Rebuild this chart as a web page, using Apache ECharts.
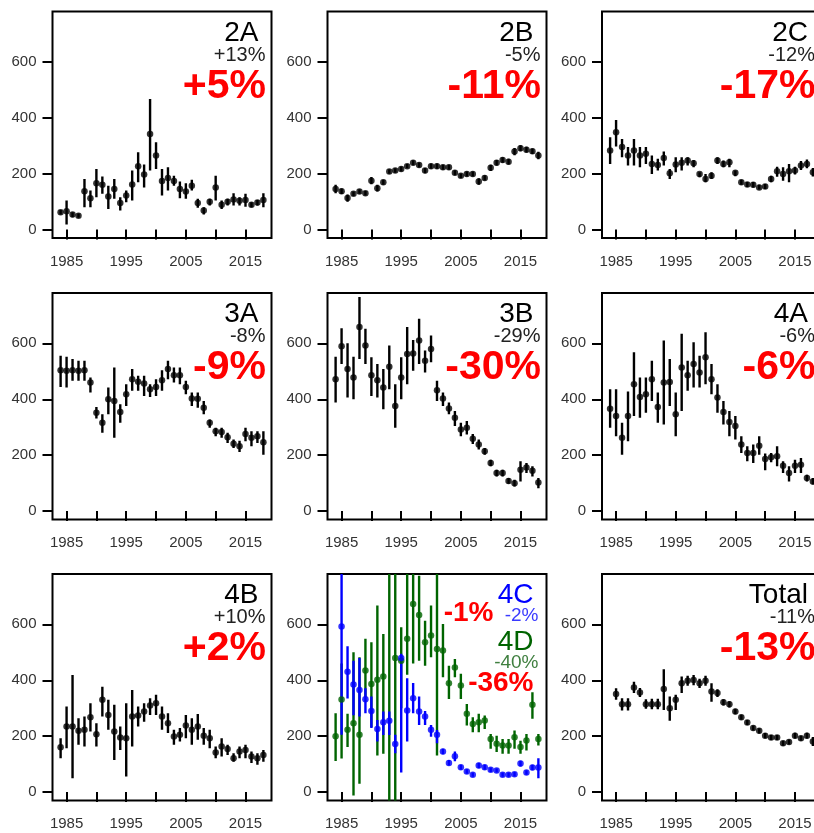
<!DOCTYPE html>
<html>
<head>
<meta charset="utf-8">
<script src="https://cdn.jsdelivr.net/npm/echarts@6/dist/echarts.min.js"></script>
<style>
  html, body { margin: 0; padding: 0; background: #fff; }
  #chart { width: 814px; height: 833px; }
</style>
</head>
<body>
<div id="chart"></div>
<script>
// Survey years shared by every panel
const YEARS = [1984,1985,1986,1987,1988,1989,1990,1991,1992,1993,1994,1995,1996,1997,1998,1999,2000,
               2001,2002,2003,2004,2005,2006,2007,2008,2009,2010,2011,2012,2013,2014,2015,2016,2017,2018];

// Axis tick values
const Y_TICKS = [0, 200, 400, 600];
const X_TICKS = [1985, 1990, 1995, 2000, 2005, 2010, 2015];
const X_LABELS = [1985, 1995, 2005, 2015];

// Area 2A
const est2A = [62,66,54,50,137,112,166,160,118,145,95,122,161,227,197,342,265,174,185,174,145,136,157,95,68,100,151,89,100,108,103,106,89,97,106];
const lo2A  = [54,18,44,42,80,80,116,128,74,110,68,98,104,169,151,211,217,122,140,157,112,110,140,78,54,86,104,74,86,86,86,82,80,86,80];
const hi2A  = [70,104,62,58,181,140,217,190,157,181,116,140,211,277,233,467,312,217,223,193,172,166,178,110,80,110,193,104,110,130,116,128,98,106,130];

// Area 2B
const est2B = [145,137,113,128,136,130,175,148,169,208,211,217,227,239,231,211,227,227,223,223,203,193,199,199,172,185,221,239,249,243,279,291,286,280,265];
const lo2B  = [130,127,100,120,128,122,162,136,160,200,203,208,219,230,222,202,218,218,214,214,194,185,190,190,160,176,210,229,239,233,266,280,276,270,252];
const hi2B  = [160,147,126,136,144,138,188,160,178,216,219,226,235,248,240,220,236,236,232,232,212,201,208,208,184,194,232,249,259,253,292,302,296,290,278];

// Area 2C
const est2C = [283,348,295,265,283,265,271,235,231,256,202,233,239,247,237,199,181,193,247,235,241,203,169,161,160,151,154,181,209,199,209,211,229,235,205];
const lo2C  = [235,297,259,229,229,223,235,199,211,229,181,205,211,229,223,187,169,181,235,223,223,191,160,152,151,143,145,169,189,175,169,197,213,219,190];
const hi2C  = [330,392,324,295,324,295,295,265,253,279,217,259,259,259,249,205,199,205,259,247,253,211,178,170,170,160,163,193,225,223,235,225,245,251,220];

// Area 3A
const est3A = [504,502,504,502,504,460,352,316,400,394,354,418,472,463,456,436,444,468,508,486,486,444,403,402,370,316,286,283,264,241,232,276,262,268,246];
const lo3A  = [444,442,466,466,466,424,331,280,346,262,316,376,430,430,412,408,412,430,472,460,454,418,376,370,346,298,268,262,244,226,211,250,232,244,202];
const hi3A  = [556,552,544,538,538,478,372,346,442,514,382,454,508,484,484,454,472,504,538,514,514,466,424,424,394,328,298,298,280,256,252,298,286,286,286];

// Area 3B
const est3B = [472,590,508,478,658,592,486,468,442,516,376,478,562,564,610,538,580,432,403,367,334,292,298,259,238,214,172,136,136,108,100,148,156,144,102];
const lo3B  = [388,526,406,400,544,526,412,406,364,436,298,400,454,502,526,496,532,394,376,346,304,268,274,240,220,202,160,124,124,98,88,106,136,124,82];
const hi3B  = [552,654,600,552,766,652,550,526,508,592,454,550,658,612,688,574,628,466,424,388,358,316,322,276,256,226,184,148,148,118,112,178,172,160,118];

// Area 4A
const est4A = [366,340,262,340,454,408,418,472,372,460,462,346,514,486,526,496,550,472,406,354,319,304,238,208,208,234,186,193,196,162,136,162,166,118,106];
const lo4A  = [298,268,202,250,340,334,352,394,316,310,376,268,358,430,442,442,454,418,352,310,268,256,208,178,172,202,146,175,160,136,106,136,136,106,95];
const hi4A  = [436,436,316,428,568,478,478,538,424,610,544,424,634,538,604,556,640,526,454,394,358,340,268,232,238,268,206,208,232,178,160,184,190,130,118];

// Area 4B
const est4B = [160,235,235,219,223,268,207,330,276,217,195,193,270,274,288,310,318,270,246,199,205,238,223,235,202,193,142,163,154,121,145,151,127,121,133];
const lo4B  = [121,157,50,169,163,217,163,270,223,115,151,56,163,235,252,276,276,223,211,169,181,193,169,187,169,157,121,127,133,109,121,121,104,98,109];
const hi4B  = [193,306,419,264,270,318,246,377,330,312,235,318,365,306,318,336,348,306,282,223,229,276,264,279,229,223,163,193,169,139,163,169,145,139,151];

// Area 4C (no 1984 estimate)
const est4C = [null,592,430,385,365,332,290,226,250,255,172,480,292,336,288,270,223,205,145,104,128,89,74,62,95,89,80,77,62,62,64,102,70,88,88];
const lo4C  = [null,205,335,275,270,282,229,181,204,204,139,70,181,282,240,240,198,175,135,95,110,80,66,55,85,80,72,70,55,55,56,92,62,78,50];
const hi4C  = [null,1000,522,470,480,371,342,258,288,288,205,495,407,390,342,290,240,222,155,115,145,98,82,70,105,98,88,84,70,70,72,112,78,98,121];

// Area 4D
const est4D = [200,331,223,246,205,435,387,402,413,820,480,470,548,673,633,536,560,512,506,389,446,381,280,244,250,256,190,173,167,167,196,161,185,312,190];
const lo4D  = [111,120,161,-12,30,339,232,131,137,-150,-150,300,420,460,470,452,482,131,411,333,411,333,238,214,214,226,155,143,137,137,155,137,149,262,167];
const hi4D  = [282,460,280,500,482,548,536,667,565,2000,2000,590,820,820,774,613,667,800,601,452,476,423,315,268,280,274,208,202,190,190,220,184,208,357,208];

// All areas combined (from 1985)
const estTot = [null,351,314,314,374,356,314,314,314,369,300,330,389,398,401,389,398,360,354,321,314,288,268,249,229,219,202,195,195,175,179,202,193,202,181];
const loTot  = [null,330,292,292,354,340,298,296,296,294,255,294,354,380,382,372,380,323,340,310,303,278,259,240,220,210,193,186,186,166,170,192,184,192,165];
const hiTot  = [null,371,336,336,395,372,332,334,334,439,342,348,413,416,419,405,416,389,368,332,325,298,277,258,238,228,211,204,204,184,188,212,202,212,197];

// Panel captions: name, short-term change, long-term change
const NAMES = ['2A', '2B', '2C', '3A', '3B', '4A', '4B', null, 'Total'];
const SUBS  = ['+13%', '-5%', '-12%', '-8%', '-29%', '-6%', '+10%', null, '-11%'];
const BIGS  = ['+5%', '-11%', '-17%', '-9%', '-30%', '-6%', '+2%', null, '-13%'];

const BLACK = '#000000', BLUE = '#0000FF', GREEN = '#006400', RED = '#FF0000';
const FONT = '"Liberation Sans", Arial, sans-serif';

// Panel layout (pixels); the third column runs past the right edge of the page
const COL_LEFT = [52.5, 327.5, 602];
const ROW_TOP = [11.5, 293, 574];
const PW = 219, PH = 226.5;
const X_MIN = 1982.64, X_MAX = 2019.36, Y_MIN = -30, Y_MAX = 780;

const panels = [
  [{ est: est2A, lo: lo2A, hi: hi2A, color: BLACK }],
  [{ est: est2B, lo: lo2B, hi: hi2B, color: BLACK }],
  [{ est: est2C, lo: lo2C, hi: hi2C, color: BLACK }],
  [{ est: est3A, lo: lo3A, hi: hi3A, color: BLACK }],
  [{ est: est3B, lo: lo3B, hi: hi3B, color: BLACK }],
  [{ est: est4A, lo: lo4A, hi: hi4A, color: BLACK }],
  [{ est: est4B, lo: lo4B, hi: hi4B, color: BLACK }],
  [{ est: est4D, lo: lo4D, hi: hi4D, color: GREEN }, { est: est4C, lo: lo4C, hi: hi4C, color: BLUE }],
  [{ est: estTot, lo: loTot, hi: hiTot, color: BLACK }]
];

const grids = [], xAxes = [], yAxes = [], series = [], graphics = [];

function txt(x, y, text, size, color, bold) {
  return {
    type: 'text', x: x, y: y, silent: true,
    style: {
      text: text, fill: color,
      font: (bold ? 'bold ' : '') + size + 'px ' + FONT,
      align: 'right', verticalAlign: 'middle',
      textAlign: 'right', textVerticalAlign: 'middle'
    }
  };
}

panels.forEach((groups, i) => {
  const col = i % 3, row = Math.floor(i / 3);
  const L = COL_LEFT[col], T = ROW_TOP[row], R = L + PW;
  grids.push({ left: L, top: T, width: PW, height: PH, show: true,
               outerBoundsMode: 'none', containLabel: false,
               borderColor: '#000', borderWidth: 2, backgroundColor: 'transparent' });
  xAxes.push({
    gridIndex: i, type: 'value', min: X_MIN, max: X_MAX,
    axisLine: { show: false },
    axisTick: { show: true, length: 10, inside: false, customValues: X_TICKS,
                lineStyle: { color: '#000', width: 2 } },
    axisLabel: { customValues: X_LABELS, margin: 16, color: '#333', fontSize: 15, fontFamily: FONT,
                 formatter: v => String(v) },
    splitLine: { show: false }
  });
  yAxes.push({
    gridIndex: i, type: 'value', min: Y_MIN, max: Y_MAX,
    axisLine: { show: false },
    axisTick: { show: true, length: 10, inside: false, customValues: Y_TICKS,
                lineStyle: { color: '#000', width: 2 } },
    axisLabel: { customValues: Y_TICKS, margin: 16, color: '#333', fontSize: 15, fontFamily: FONT,
                 formatter: v => String(v) },
    splitLine: { show: false }
  });
  groups.forEach(g => {
    const bars = [], pts = [];
    YEARS.forEach((yr, k) => {
      if (g.est[k] == null) return;
      bars.push([yr, g.lo[k], g.hi[k]]);
      pts.push([yr, g.est[k]]);
    });
    series.push({
      type: 'custom', xAxisIndex: i, yAxisIndex: i, clip: true, silent: true,
      data: bars,
      renderItem: (params, api) => {
        const a = api.coord([api.value(0), api.value(1)]);
        const b = api.coord([api.value(0), api.value(2)]);
        return { type: 'line', shape: { x1: a[0], y1: a[1], x2: b[0], y2: b[1] },
                 style: { stroke: g.color, lineWidth: 2.4 } };
      }
    });
    series.push({
      type: 'scatter', xAxisIndex: i, yAxisIndex: i, clip: true, silent: true,
      data: pts, symbol: 'circle', symbolSize: 6.5,
      itemStyle: { color: g.color }
    });
  });
  if (NAMES[i]) {
    graphics.push(txt(R - 13, T + 21.5, NAMES[i], 28, '#000', false));
    graphics.push(txt(R - 6, T + 43.5, SUBS[i], 20, '#222', false));
    graphics.push(txt(R - 5.5, T + 75, BIGS[i], 41, RED, true));
  } else {
    graphics.push(txt(R - 13, T + 21.5, '4C', 28, BLUE, false));
    graphics.push(txt(R - 8, T + 41.5, '-2%', 19, '#3a3aff', false));
    graphics.push(txt(R - 53, T + 39, '-1%', 28, RED, true));
    graphics.push(txt(R - 13, T + 68, '4D', 28, GREEN, false));
    graphics.push(txt(R - 8, T + 89, '-40%', 19, '#3f7f3f', false));
    graphics.push(txt(R - 13, T + 109.5, '-36%', 28, RED, true));
  }
});

const chart = echarts.init(document.getElementById('chart'), null, { renderer: 'canvas' });
chart.setOption({
  animation: false,
  backgroundColor: '#fff',
  grid: grids, xAxis: xAxes, yAxis: yAxes, series: series,
  graphic: { elements: graphics }
});
</script>
</body>
</html>
